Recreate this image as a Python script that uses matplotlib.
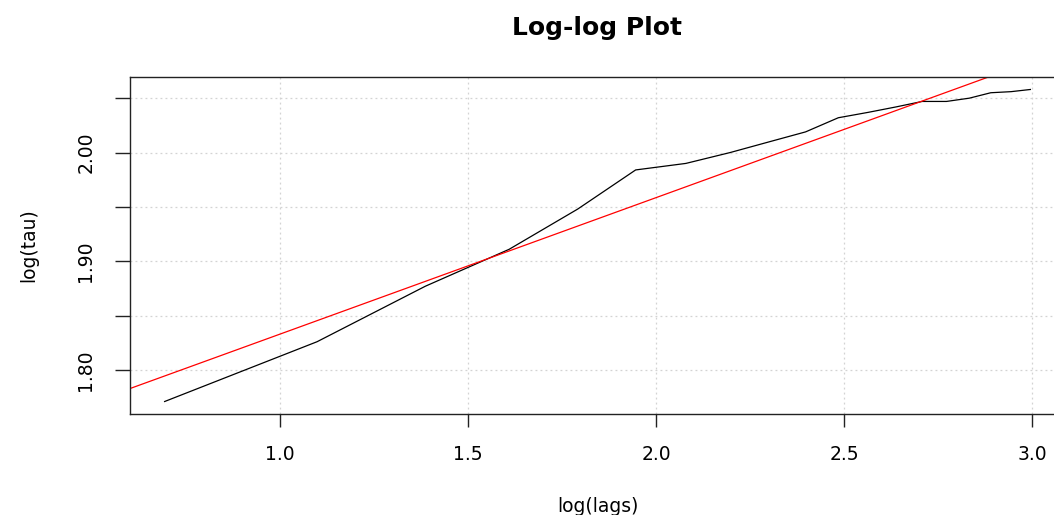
import numpy as np
import matplotlib
matplotlib.use("Agg")
import matplotlib.pyplot as plt

# lags 2..20 and the estimated log(tau)
lags = [2, 3, 4, 5, 6, 7, 8, 9, 10, 11, 12, 13, 14, 15, 16, 17, 18, 19, 20]
log_tau = [1.771, 1.826, 1.877, 1.911, 1.948, 1.984, 1.990, 2.000, 2.010,
           2.019, 2.032, 2.037, 2.042, 2.047, 2.047, 2.050, 2.055, 2.056, 2.058]

# fitted line (abline of lm)
fit_intercept = 1.7075
fit_slope = 0.1255

x_ticks = [1.0, 1.5, 2.0, 2.5, 3.0]
x_tick_labels = ["1.0", "1.5", "2.0", "2.5", "3.0"]
y_ticks = [1.80, 1.85, 1.90, 1.95, 2.00, 2.05]
y_tick_labels = ["1.80", "", "1.90", "", "2.00", ""]

log_lags = np.log(lags)

fig = plt.figure(figsize=(10.54, 5.15), dpi=100)
ax = fig.add_axes([130 / 1054, 101 / 515, 935 / 1054, 337 / 515])

# R-style 4% padding around the data range
xr = log_lags.max() - log_lags.min()
yr = max(log_tau) - min(log_tau)
ax.set_xlim(log_lags.min() - 0.04 * xr, log_lags.max() + 0.04 * xr)
ax.set_ylim(min(log_tau) - 0.04 * yr, max(log_tau) + 0.04 * yr)

ax.set_xticks(x_ticks)
ax.set_xticklabels(x_tick_labels)
ax.set_yticks(y_ticks)
ax.set_yticklabels(y_tick_labels, rotation=90, va="center")

ax.grid(True, color="lightgray", linestyle=(0, (1.5, 2.5)), linewidth=0.9)
ax.set_axisbelow(True)

ax.plot(log_lags, log_tau, color="black", linewidth=0.9)
ax.axline((0, fit_intercept), slope=fit_slope, color="red", linewidth=0.9)

for s in ax.spines.values():
    s.set_color("#222222")
    s.set_linewidth(1.0)

ax.tick_params(axis="x", length=9, width=1.0, pad=13, labelsize=13.5, colors="#222222")
ax.tick_params(axis="y", length=11, width=1.0, pad=14, labelsize=13.5, colors="#222222")
for lab in ax.get_xticklabels() + ax.get_yticklabels():
    lab.set_color("black")

ax.set_title("Log-log Plot", fontsize=18, fontweight="bold", pad=30)
ax.set_xlabel("log(lags)", fontsize=13.5)
ax.xaxis.set_label_coords(0.5, -0.246)
ax.set_ylabel("log(tau)", fontsize=13.5)
ax.yaxis.set_label_coords(-0.098, 0.5)

fig.savefig("out.png", dpi=100)
